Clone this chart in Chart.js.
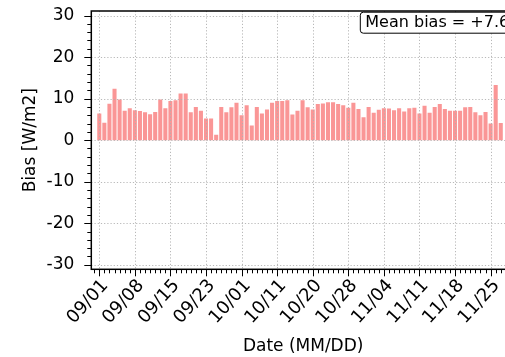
<!DOCTYPE html>
<html><head><meta charset="utf-8">
<script src="https://cdn.jsdelivr.net/npm/chart.js@4"></script>
<style>
html,body{margin:0;padding:0;overflow:hidden;background:#fff;width:505px;height:357px}
#wrap{width:560px;height:357px;position:relative}
</style></head>
<body><div id="wrap"><canvas id="c" width="560" height="357"></canvas></div>
<script>
// ---- data ----
const dates = [
 '09/01','09/02','09/03','09/04','09/05','09/06','09/07',
 '09/08','09/09','09/10','09/11','09/12','09/13','09/14',
 '09/15','09/16','09/17','09/18','09/20','09/21','09/22',
 '09/23','09/24','09/25','09/26','09/27','09/28','09/30',
 '10/01','10/02','10/03','10/05','10/07','10/08','10/10',
 '10/11','10/12','10/13','10/15','10/16','10/17','10/19',
 '10/20','10/21','10/22','10/23','10/24','10/26','10/27',
 '10/28','10/29','10/30','10/31','11/01','11/02','11/03',
 '11/04','11/05','11/06','11/07','11/08','11/09','11/10',
 '11/11','11/12','11/13','11/14','11/15','11/16','11/17',
 '11/18','11/19','11/20','11/21','11/22','11/23','11/24',
 '11/25','11/26','11/27'
];
const bias = [
 6.4, 4.2, 8.75, 12.4, 9.8, 7.1, 7.7,
 7.2, 7.0, 6.7, 6.25, 6.8, 9.8, 7.7,
 9.4, 9.6, 11.25, 11.25, 6.7, 8.0, 7.1,
 5.2, 5.2, 1.3, 8.0, 6.7, 7.9, 9.0,
 6.0, 8.4, 3.5, 8.0, 6.4, 7.4, 9.0,
 9.45, 9.45, 9.6, 6.2, 7.1, 9.6, 7.9,
 7.4, 8.7, 8.8, 9.1, 9.1, 8.7, 8.4,
 7.8, 9.0, 7.5, 5.5, 8.0, 6.6, 7.3,
 7.7, 7.6, 7.2, 7.7, 6.9, 7.7, 7.8,
 6.4, 8.3, 6.6, 8.0, 8.7, 7.5, 7.1,
 7.1, 7.1, 7.9, 8.0, 6.7, 6.0, 6.8,
 4.0, 13.3, 4.1
];
const tickLabels = ['09/01','09/08','09/15','09/23','10/01','10/11','10/20','10/28','11/04','11/11','11/18','11/25'];
const yTicks = [-30,-20,-10,0,10,20,30];
const meanBiasText = 'Mean bias = +7.6 W/m2';

// ---- chart ----
const FONT = 'DejaVu Sans';
const tickIndex = tickLabels.map(l => dates.indexOf(l));

const axesPlugin = {
  id: 'mplAxes',
  afterDatasetsDraw(chart) {
    const {ctx, chartArea: a, scales: {x, y}} = chart;
    ctx.save();
    ctx.strokeStyle = '#b0b0b0';
    ctx.lineWidth = 0.9;
    ctx.setLineDash([1.2, 2]);
    yTicks.forEach(v => {
      const py = Math.round(y.getPixelForValue(v)) + 0.5;
      ctx.beginPath(); ctx.moveTo(a.left, py); ctx.lineTo(a.right, py); ctx.stroke();
    });
    tickIndex.forEach(v => {
      const px = Math.round(x.getPixelForValue(v)) + 0.5;
      ctx.beginPath(); ctx.moveTo(px, a.top); ctx.lineTo(px, a.bottom); ctx.stroke();
    });
    ctx.setLineDash([]);
    ctx.strokeStyle = '#000';
    ctx.lineWidth = 1;
    const yMajor = 7, yMinor = 4;
    for (let v = Math.ceil(y.min); v <= Math.floor(y.max); v++) {
      if (v % 2 !== 0) continue;
      const major = v % 10 === 0;
      const py = Math.round(y.getPixelForValue(v)) + 0.5;
      ctx.beginPath(); ctx.moveTo(a.left, py); ctx.lineTo(a.left - (major ? yMajor : yMinor), py); ctx.stroke();
    }
    for (let v = Math.ceil(x.min); v <= Math.floor(x.max); v++) {
      const major = tickIndex.includes(v);
      const px = Math.round(x.getPixelForValue(v)) + 0.5;
      ctx.beginPath(); ctx.moveTo(px, a.bottom); ctx.lineTo(px, a.bottom + (major ? yMajor : yMinor)); ctx.stroke();
    }
    ctx.lineWidth = 1.5;
    ctx.strokeRect(a.left, a.top, a.right - a.left, a.bottom - a.top);
    ctx.font = '16px "' + FONT + '"';
    const tw = ctx.measureText(meanBiasText).width;
    const bx = a.left + 269, by = a.top + 1.2, bh = 21, bw = tw + 10;
    ctx.beginPath();
    ctx.roundRect(bx, by, bw, bh, 3);
    ctx.fillStyle = '#fff'; ctx.fill();
    ctx.lineWidth = 1; ctx.strokeStyle = '#000'; ctx.stroke();
    ctx.fillStyle = '#000';
    ctx.textBaseline = 'middle';
    ctx.fillText(meanBiasText, bx + 5, by + bh / 2 + 0.5);
    ctx.restore();
  }
};

new Chart(document.getElementById('c'), {
  type: 'bar',
  data: {
    datasets: [{
      data: bias.map((v, i) => ({x: i, y: v})),
      backgroundColor: '#fa9696',
      borderWidth: 0,
      barPercentage: 0.8,
      categoryPercentage: 1.0
    }]
  },
  options: {
    responsive: false,
    animation: false,
    devicePixelRatio: 1,
    layout: {padding: {top: 11, right: 45, left: 0, bottom: 0}},
    plugins: {legend: {display: false}, tooltip: {enabled: false}},
    scales: {
      x: {
        type: 'linear',
        offset: false,
        min: -1.57, max: 81.8,
        afterBuildTicks: s => { s.ticks = tickIndex.map(v => ({value: v})); },
        afterFit: s => { s.height = 357 - 269.3; s.paddingLeft = 0; s.paddingRight = 0; },
        grid: {display: false, offset: false},
        border: {display: false},
        ticks: {
          autoSkip: false, minRotation: 48, maxRotation: 48,
          padding: -2,
          labelOffset: 6,
          color: '#000',
          font: {family: FONT, size: 18},
          callback: v => dates[v]
        },
        title: {display: true, text: 'Date (MM/DD)', color: '#000',
          font: {family: FONT, size: 17}, padding: {top: 0, bottom: 0}}
      },
      y: {
        min: -31.1, max: 31.1,
        afterBuildTicks: s => { s.ticks = yTicks.map(v => ({value: v})); },
        afterFit: s => { s.width = 91.3; s.paddingTop = 0; s.paddingBottom = 0; },
        grid: {display: false},
        border: {display: false},
        ticks: {padding: 9, color: '#000', font: {family: FONT, size: 17}},
        title: {display: true, text: 'Bias [W/m2]', color: '#000',
          font: {family: FONT, size: 17}, padding: {top: 20.5, bottom: 0}}
      }
    }
  },
  plugins: [axesPlugin]
});
</script>
</body></html>
